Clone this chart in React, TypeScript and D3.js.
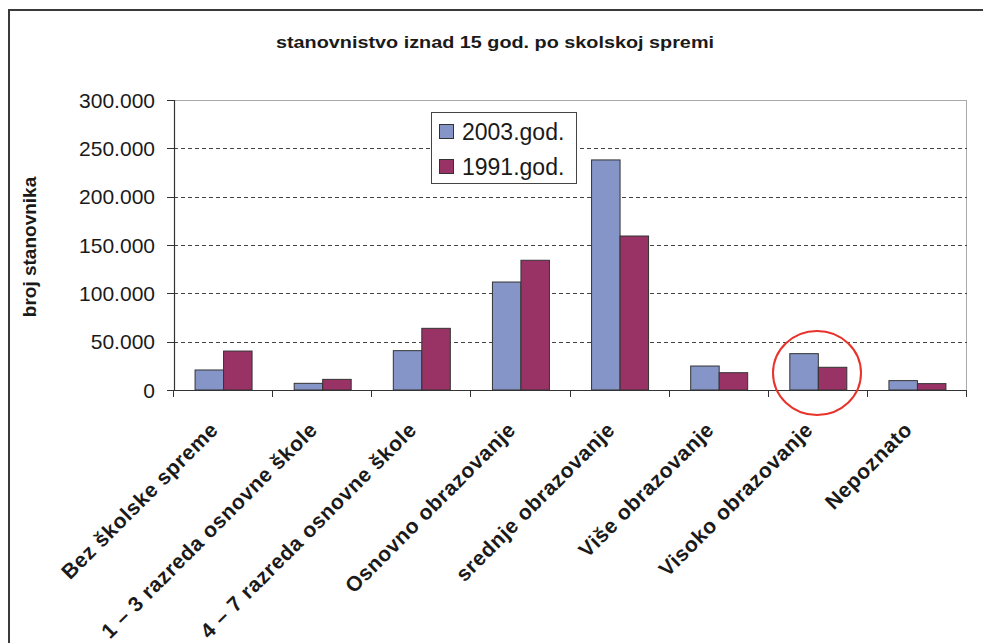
import React from "react";
import * as d3 from "d3";

const categories = [
  "Bez školske spreme",
  "1 – 3 razreda osnovne škole",
  "4 – 7 razreda osnovne škole",
  "Osnovno obrazovanje",
  "srednje obrazovanje",
  "Više obrazovanje",
  "Visoko obrazovanje",
  "Nepoznato",
];
const series = ["2003.god.", "1991.god."];
const values2003 = [20700, 6900, 40700, 111700, 238000, 24800, 37600, 9700];
const values1991 = [40300, 11000, 63800, 134200, 159300, 17900, 23500, 6600];
const yTicks = [0, 50000, 100000, 150000, 200000, 250000, 300000];
const colors = ["#8595C8", "#993366"];

const W = 983;
const H = 643;
const left = 174;
const right = 967;
const top = 100;
const bottom = 390;
const FONT = "Arial, 'Liberation Sans', sans-serif";

export default function App() {
  const x = d3.scaleBand<string>().domain(categories).range([left, right]).padding(0);
  const bw = x.bandwidth();
  const groupW = 57;
  const x1 = d3
    .scaleBand<string>()
    .domain(series)
    .range([(bw - groupW) / 2, (bw + groupW) / 2])
    .padding(0);
  const y = d3.scaleLinear().domain([0, 300000]).range([bottom, top]);
  const fmt = (v: number) => (v === 0 ? "0" : d3.format(",")(v).replace(/,/g, "."));
  const data = [values2003, values1991];

  return (
    <svg width={W} height={H} style={{ position: "absolute", left: 0, top: 0, background: "#fff" }}>
      <rect x={0} y={0} width={W} height={H} fill="#fff" />
      <rect x={9} y={10} width={1000} height={700} fill="none" stroke="#3a3a3a" strokeWidth={2} />
      <text
        x={276}
        y={48}
        textLength={438}
        lengthAdjust="spacingAndGlyphs"
        fontFamily={FONT}
        fontWeight="bold"
        fontSize={17}
        fill="#1a1a1a"
      >
        stanovnistvo iznad 15 god. po skolskoj spremi
      </text>
      {/* plot border top and right */}
      <line x1={left} x2={right} y1={top + 0.5} y2={top + 0.5} stroke="#aaa" strokeWidth={1} />
      <line x1={right - 0.5} x2={right - 0.5} y1={top} y2={bottom} stroke="#aaa" strokeWidth={1} />
      {/* grid */}
      {yTicks
        .filter((t) => t > 0 && t < 300000)
        .map((t) => (
          <line
            key={t}
            x1={left}
            x2={right}
            y1={Math.round(y(t)) + 0.5}
            y2={Math.round(y(t)) + 0.5}
            stroke="#444"
            strokeWidth={1}
            strokeDasharray="4,3"
          />
        ))}
      {/* bars */}
      {categories.map((c, i) => (
        <g key={c} transform={`translate(${x(c)},0)`}>
          {series.map((s, j) => (
            <rect
              key={s}
              x={x1(s)}
              y={y(data[j][i])}
              width={x1.bandwidth()}
              height={bottom - y(data[j][i])}
              fill={colors[j]}
              stroke="#333"
              strokeWidth={1}
            />
          ))}
        </g>
      ))}
      {/* y axis */}
      <line x1={left + 0.5} x2={left + 0.5} y1={top} y2={bottom} stroke="#333" strokeWidth={1.2} />
      {yTicks.map((t) => (
        <g key={t}>
          <line x1={167} x2={left} y1={Math.round(y(t)) + 0.5} y2={Math.round(y(t)) + 0.5} stroke="#333" />
          <text
            x={155}
            y={y(t) + 7.5}
            textAnchor="end"
            fontFamily={FONT}
            fontSize={21}
            fill="#1a1a1a"
          >
            {fmt(t)}
          </text>
        </g>
      ))}
      {/* x axis */}
      <line x1={left} x2={right} y1={bottom + 0.5} y2={bottom + 0.5} stroke="#333" strokeWidth={1.2} />
      {[...categories.map((c) => x(c) as number), right].map((px, i) => (
        <line key={i} x1={Math.round(px) - 0.5} x2={Math.round(px) - 0.5} y1={bottom} y2={bottom + 7} stroke="#333" />
      ))}
      {categories.map((c) => {
        const cx = (x(c) as number) + bw / 2 - 4;
        const cy = 431;
        return (
          <text
            key={c}
            transform={`translate(${cx},${cy}) rotate(-45)`}
            textAnchor="end"
            fontFamily={FONT}
            fontWeight="bold"
            fontSize={21}
            letterSpacing={0.6}
            fill="#1a1a1a"
          >
            {c}
          </text>
        );
      })}
      {/* y title */}
      <text
        transform={`translate(36,247) rotate(-90)`}
        textAnchor="middle"
        fontFamily={FONT}
        fontWeight="bold"
        fontSize={19}
        fill="#1a1a1a"
      >
        broj stanovnika
      </text>
      {/* legend */}
      <rect x={431.5} y={112.5} width={145} height={71} fill="#fff" stroke="#444" strokeWidth={1} />
      {series.map((s, j) => (
        <g key={s}>
          <rect x={439.5} y={124.5 + j * 35} width={14} height={14} fill={colors[j]} stroke="#333" />
          <text x={462} y={140 + j * 35} fontFamily={FONT} fontSize={23} fill="#1a1a1a">
            {s}
          </text>
        </g>
      ))}
      {/* annotation circle */}
      <ellipse cx={817} cy={373} rx={44} ry={42} fill="none" stroke="#e8322a" strokeWidth={2} />
    </svg>
  );
}
